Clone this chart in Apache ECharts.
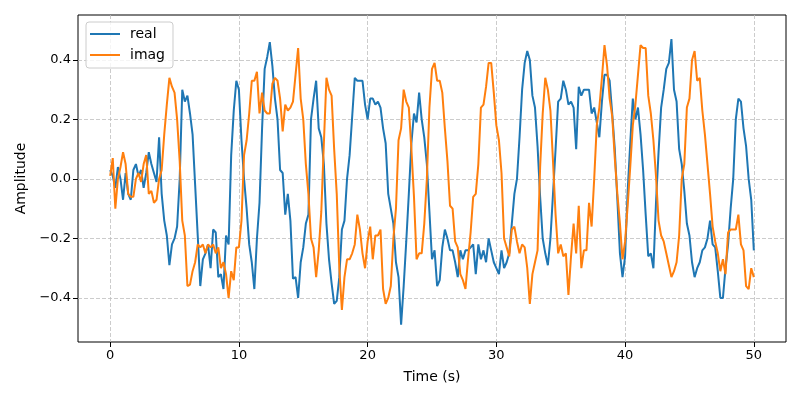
<!DOCTYPE html>
<html>
<head>
<meta charset="utf-8">
<script src="https://cdn.jsdelivr.net/npm/echarts@6/dist/echarts.min.js"></script>
<style>html,body{margin:0;padding:0;background:#fff}#c{width:800px;height:400px}</style>
</head>
<body>
<div id="c"></div>
<script>
// sampling step of the signal (s)
const dt = 0.2;
const xTicks = [0, 10, 20, 30, 40, 50];
const yTicks = [-0.4, -0.2, 0, 0.2, 0.4];

const real = [
  0.03,0.01,-0.03,0.04,0.0,-0.07,0.02,-0.05,-0.07,0.03,
  0.05,0.01,0.03,-0.03,0.02,0.09,0.05,0.02,-0.01,0.14,
  -0.05,-0.14,-0.19,-0.29,-0.22,-0.2,-0.16,0.0,0.3,0.26,
  0.28,0.22,0.15,-0.02,-0.19,-0.36,-0.27,-0.25,-0.22,-0.3,
  -0.17,-0.18,-0.33,-0.32,-0.37,-0.19,-0.22,0.08,0.23,0.33,
  0.3,0.13,0.0,-0.1,-0.22,-0.28,-0.37,-0.2,-0.08,0.17,
  0.37,0.41,0.46,0.38,0.27,0.2,0.03,0.02,-0.12,-0.05,
  -0.14,-0.335,-0.33,-0.4,-0.28,-0.23,-0.15,-0.12,0.2,0.27,
  0.33,0.17,0.14,0.05,-0.15,-0.27,-0.35,-0.42,-0.41,-0.33,
  -0.17,-0.14,0.0,0.08,0.21,0.34,0.33,0.33,0.33,0.25,
  0.2,0.27,0.27,0.25,0.26,0.24,0.17,0.12,-0.05,-0.1,
  -0.15,-0.28,-0.33,-0.49,-0.36,-0.21,-0.05,0.12,0.22,0.19,
  0.29,0.2,0.14,0.05,-0.11,-0.27,-0.24,-0.36,-0.34,-0.23,
  -0.17,-0.2,-0.24,-0.24,-0.28,-0.33,-0.24,-0.27,-0.24,-0.24,
  -0.23,-0.22,-0.32,-0.22,-0.27,-0.24,-0.28,-0.2,-0.24,-0.28,
  -0.3,-0.32,-0.24,-0.3,-0.28,-0.25,-0.15,-0.05,0.0,0.14,
  0.3,0.39,0.43,0.4,0.28,0.24,0.11,-0.06,-0.2,-0.25,
  -0.29,-0.2,-0.05,0.1,0.26,0.27,0.33,0.3,0.25,0.26,
  0.24,0.1,0.31,0.28,0.3,0.3,0.3,0.22,0.24,0.19,
  0.14,0.26,0.35,0.35,0.33,0.22,0.1,-0.07,-0.25,-0.33,
  -0.26,-0.04,0.12,0.27,0.2,0.24,0.15,0.03,-0.12,-0.26,
  -0.25,-0.3,-0.08,0.09,0.24,0.3,0.37,0.39,0.47,0.3,
  0.26,0.1,0.05,-0.04,-0.15,-0.19,-0.28,-0.33,-0.3,-0.28,
  -0.24,-0.23,-0.2,-0.14,-0.22,-0.23,-0.31,-0.4,-0.4,-0.3,
  -0.22,-0.1,0.0,0.2,0.27,0.26,0.17,0.11,0.0,-0.07,
  -0.24
];

const imag = [
  0.01,0.07,-0.1,0.0,0.04,0.09,0.05,-0.05,-0.06,-0.06,
  0.0,0.02,-0.01,0.05,0.08,-0.05,-0.04,-0.08,-0.07,0.0,
  0.03,0.15,0.25,0.34,0.31,0.29,0.2,0.06,-0.14,-0.19,
  -0.36,-0.355,-0.31,-0.28,-0.22,-0.23,-0.22,-0.25,-0.22,-0.23,
  -0.22,-0.25,-0.23,-0.3,-0.28,-0.32,-0.4,-0.31,-0.34,-0.23,
  -0.23,-0.14,0.08,0.13,0.22,0.33,0.33,0.36,0.22,0.29,
  0.23,0.22,0.22,0.32,0.34,0.33,0.27,0.16,0.25,0.23,
  0.24,0.26,0.35,0.44,0.27,0.2,0.05,-0.05,-0.2,-0.23,
  -0.33,-0.24,-0.11,0.12,0.34,0.3,0.28,0.1,-0.05,-0.3,
  -0.44,-0.33,-0.27,-0.27,-0.25,-0.22,-0.12,-0.17,-0.25,-0.3,
  -0.21,-0.16,-0.27,-0.19,-0.19,-0.17,-0.37,-0.42,-0.4,-0.36,
  -0.2,-0.1,0.13,0.17,0.3,0.26,0.24,0.1,-0.06,-0.27,
  -0.25,-0.25,-0.15,0.0,0.24,0.37,0.39,0.33,0.33,0.29,
  0.17,0.06,-0.09,-0.1,-0.21,-0.23,-0.32,-0.34,-0.37,-0.27,
  -0.18,-0.06,-0.05,0.05,0.24,0.25,0.31,0.39,0.39,0.29,
  0.18,0.13,0.02,-0.2,-0.23,-0.26,-0.17,-0.16,-0.21,-0.25,
  -0.22,-0.23,-0.3,-0.42,-0.32,-0.28,-0.24,0.04,0.22,0.34,
  0.3,0.23,0.06,-0.12,-0.25,-0.22,-0.26,-0.25,-0.39,-0.26,
  -0.15,-0.25,-0.09,-0.3,-0.24,-0.24,-0.08,-0.16,0.0,0.18,
  0.24,0.34,0.45,0.38,0.27,0.21,0.07,-0.05,-0.15,-0.27,
  -0.21,-0.09,0.04,0.18,0.25,0.35,0.45,0.44,0.44,0.28,
  0.22,0.13,0.01,-0.14,-0.19,-0.21,-0.25,-0.29,-0.33,-0.31,
  -0.28,-0.19,0.0,0.05,0.24,0.27,0.4,0.43,0.33,0.34,
  0.23,0.15,0.05,-0.05,-0.16,-0.21,-0.25,-0.31,-0.27,-0.32,
  -0.18,-0.17,-0.17,-0.17,-0.12,-0.22,-0.24,-0.36,-0.37,-0.3,
  -0.33
];

const time = real.map((_, i) => +(i * dt).toFixed(1));
const pairs = arr => arr.map((v, i) => [time[i], v]);

const font = 'DejaVu Sans';
const chart = echarts.init(document.getElementById('c'), null, {renderer: 'canvas'});
chart.setOption({
  animation: false,
  backgroundColor: '#fff',
  grid: {left: 78, right: 14, top: 15, bottom: 58, show: true, borderColor: '#000', borderWidth: 1, backgroundColor: 'transparent'},
  legend: {
    orient: 'vertical', left: 86, top: 22,
    padding: [5, 8, 6, 4], itemGap: 7,
    backgroundColor: 'rgba(255,255,255,0.8)', borderColor: '#cccccc', borderWidth: 1, borderRadius: 3,
    icon: 'rect', itemWidth: 30, itemHeight: 2,
    textStyle: {fontFamily: font, fontSize: 14, color: '#000', padding: [0, 0, 0, 5]},
    data: ['real', 'imag']
  },
  xAxis: {
    type: 'value', min: -2.5, max: 52.5, splitNumber: 5,
    name: 'Time (s)', nameLocation: 'middle', nameGap: 28,
    nameTextStyle: {fontFamily: font, fontSize: 14, color: '#000'},
    axisLine: {show: false, onZero: false},
    axisTick: {show: true, inside: false, length: 5, lineStyle: {color: '#000'}, customValues: xTicks},
    axisLabel: {fontFamily: font, fontSize: 13, color: '#000', margin: 7, customValues: xTicks,
      formatter: v => String(v)},
    splitLine: {show: true, lineStyle: {color: '#bfbfbf', width: 0.8, type: [4, 2]}}
  },
  yAxis: {
    type: 'value', min: -0.548, max: 0.551, splitNumber: 5,
    name: 'Amplitude', nameLocation: 'middle', nameGap: 49,
    nameTextStyle: {fontFamily: font, fontSize: 14, color: '#000'},
    axisLine: {show: false, onZero: false},
    axisTick: {show: true, inside: false, length: 5, lineStyle: {color: '#000'}, customValues: yTicks},
    axisLabel: {fontFamily: font, fontSize: 13, color: '#000', margin: 7, customValues: yTicks,
      formatter: v => (v < -1e-9 ? '\u2212' : '') + Math.abs(v).toFixed(1)},
    splitLine: {show: true, lineStyle: {color: '#bfbfbf', width: 0.8, type: [4, 2]}}
  },
  series: [
    {name: 'real', type: 'line', data: pairs(real), symbol: 'none', color: '#1f77b4',
      lineStyle: {width: 2, color: '#1f77b4'}},
    {name: 'imag', type: 'line', data: pairs(imag), symbol: 'none', color: '#ff7f0e',
      lineStyle: {width: 2, color: '#ff7f0e'}}
  ]
});
</script>
</body>
</html>
